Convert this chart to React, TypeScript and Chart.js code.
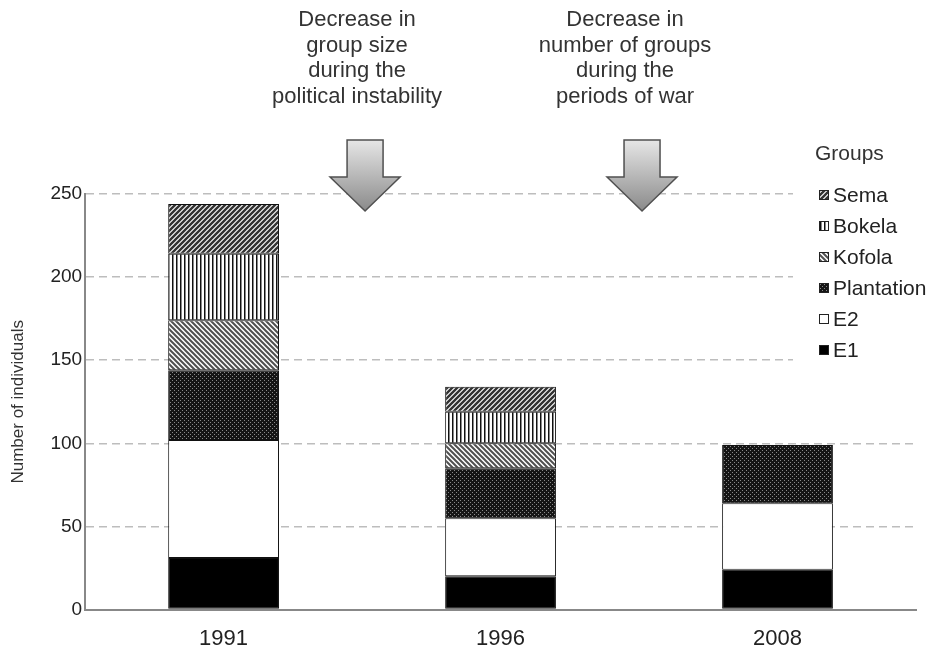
import React, { useEffect, useRef } from "react";
import { Chart, registerables } from "chart.js";

Chart.register(...registerables);

// ---- data ----
const years = ["1991", "1996", "2008"];
const groupNames = ["E1", "E2", "Plantation", "Kofola", "Bokela", "Sema"];
const e1Values = [31, 20, 24];
const e2Values = [71, 35, 40];
const plantationValues = [42, 30, 35];
const kofolaValues = [30, 15, null];
const bokelaValues = [40, 19, null];
const semaValues = [30, 15, null];
const yMax = 250;
const yStep = 50;
const yTitle = "Number of individuals";
const legendTitle = "Groups";
const note1 = ["Decrease in", "group size", "during the", "political instability"];
const note2 = ["Decrease in", "number of groups", "during the", "periods of war"];

const FONT = "'Liberation Sans', Arial, Helvetica, sans-serif";

function makePattern(size: number, draw: (g: CanvasRenderingContext2D, s: number) => void) {
  const c = document.createElement("canvas");
  c.width = size;
  c.height = size;
  const g = c.getContext("2d") as CanvasRenderingContext2D;
  draw(g, size);
  return g.createPattern(c, "repeat") as CanvasPattern;
}

function diag(g: CanvasRenderingContext2D, s: number, up: boolean, color: string, w: number) {
  g.fillStyle = "#fff";
  g.fillRect(0, 0, s, s);
  g.strokeStyle = color;
  g.lineWidth = w;
  g.beginPath();
  if (up) {
    g.moveTo(-1, s + 1); g.lineTo(s + 1, -1);
    g.moveTo(-1, 1); g.lineTo(1, -1);
    g.moveTo(s - 1, s + 1); g.lineTo(s + 1, s - 1);
  } else {
    g.moveTo(-1, -1); g.lineTo(s + 1, s + 1);
    g.moveTo(s - 1, -1); g.lineTo(s + 1, 1);
    g.moveTo(-1, s - 1); g.lineTo(1, s + 1);
  }
  g.stroke();
}

function buildFills() {
  const e1 = "#000000";
  const e2 = "#ffffff";
  const plantation = makePattern(4, (g) => {
    g.fillStyle = "#151515";
    g.fillRect(0, 0, 4, 4);
    g.fillStyle = "#8a8a8a";
    g.fillRect(0, 0, 1, 1);
    g.fillRect(2, 2, 1, 1);
  });
  const kofola = makePattern(5, (g, s) => diag(g, s, false, "#505050", 2));
  const bokela = makePattern(4, (g) => {
    g.fillStyle = "#fff";
    g.fillRect(0, 0, 4, 4);
    g.fillStyle = "#111";
    g.fillRect(0, 0, 1, 4);
    g.fillStyle = "#888";
    g.fillRect(1, 0, 1, 4);
  });
  const sema = makePattern(5, (g, s) => diag(g, s, true, "#333", 2.4));
  return [e1, e2, plantation, kofola, bokela, sema];
}

function drawArrow(ctx: CanvasRenderingContext2D, cx: number, tipY: number) {
  const shaftHalf = 18;
  const headHalf = 35;
  const headBase = tipY - 34;
  const shaftTop = tipY - 71;
  const grad = ctx.createLinearGradient(0, shaftTop, 0, tipY);
  grad.addColorStop(0, "#e6e6e6");
  grad.addColorStop(1, "#8a8a8a");
  ctx.save();
  ctx.beginPath();
  ctx.moveTo(cx - shaftHalf, shaftTop);
  ctx.lineTo(cx + shaftHalf, shaftTop);
  ctx.lineTo(cx + shaftHalf, headBase);
  ctx.lineTo(cx + headHalf, headBase);
  ctx.lineTo(cx, tipY);
  ctx.lineTo(cx - headHalf, headBase);
  ctx.lineTo(cx - shaftHalf, headBase);
  ctx.closePath();
  ctx.fillStyle = grad;
  ctx.fill();
  ctx.strokeStyle = "#505050";
  ctx.lineWidth = 1.5;
  ctx.lineJoin = "miter";
  ctx.stroke();
  ctx.restore();
}

const overlayPlugin = {
  id: "overlay",
  afterDraw(chart: any) {
    const ctx: CanvasRenderingContext2D = chart.ctx;
    const area = chart.chartArea;
    const xs = chart.scales.x;
    const fills = chart.data.datasets.map((d: any) => d.backgroundColor);

    // annotations
    const notes = [note1, note2];
    const textShift = [-5, -14];
    notes.forEach((lines, i) => {
      const mid = (xs.getPixelForValue(i) + xs.getPixelForValue(i + 1)) / 2;
      ctx.save();
      ctx.fillStyle = "#333";
      ctx.font = `22px ${FONT}`;
      ctx.textAlign = "center";
      ctx.textBaseline = "alphabetic";
      lines.forEach((t, j) => ctx.fillText(t, mid + textShift[i], 26 + j * 25.5));
      ctx.restore();
      drawArrow(ctx, mid + 3, area.top + 17);
    });

    // legend
    const lx = area.right - 123;
    ctx.save();
    ctx.fillStyle = "#fff";
    ctx.fillRect(lx, area.top - 60, chart.width - lx, 236);
    ctx.fillStyle = "#333";
    ctx.font = `21px ${FONT}`;
    ctx.textAlign = "left";
    ctx.textBaseline = "middle";
    ctx.fillText(legendTitle, lx + 22, area.top - 40);
    const ds = chart.data.datasets;
    for (let k = ds.length - 1, row = 0; k >= 0; k--, row++) {
      const cy = area.top + 1 + row * 31;
      ctx.fillStyle = fills[k];
      ctx.fillRect(lx + 26, cy - 5, 10, 10);
      ctx.strokeStyle = "#222";
      ctx.lineWidth = 1;
      ctx.strokeRect(lx + 26.5, cy - 4.5, 9, 9);
      ctx.fillStyle = "#222";
      ctx.fillText(ds[k].label, lx + 40, cy + 1);
    }
    ctx.restore();
  },
};

export default function App() {
  const ref = useRef<HTMLCanvasElement | null>(null);
  useEffect(() => {
    document.body.style.margin = "0";
    const fills = buildFills();
    const series = [e1Values, e2Values, plantationValues, kofolaValues, bokelaValues, semaValues];
    const chart = new Chart(ref.current as HTMLCanvasElement, {
      type: "bar",
      data: {
        labels: years,
        datasets: series.map((vals, i) => ({
          label: groupNames[i],
          data: vals,
          backgroundColor: fills[i],
          borderColor: "#111",
          borderWidth: 1,
          borderSkipped: false,
          categoryPercentage: 0.8,
          barPercentage: 0.5,
        })),
      },
      options: {
        responsive: false,
        animation: false,
        layout: { padding: { top: 194, left: 0, right: 13, bottom: -17 } },
        plugins: { legend: { display: false }, tooltip: { enabled: false } },
        scales: {
          x: {
            stacked: true,
            grid: { display: false, drawTicks: false },
            border: { display: true, color: "#888", width: 2 },
            ticks: { color: "#222", padding: 16, font: { family: FONT, size: 22 } },
          },
          y: {
            stacked: true,
            min: 0,
            max: yMax,
            ticks: { stepSize: yStep, color: "#222", padding: 3, font: { family: FONT, size: 19 } },
            grid: {
              drawTicks: false,
              color: (c: any) => (c.tick && c.tick.value === 0 ? "rgba(0,0,0,0)" : "#bdbdbd"),
              lineWidth: 1.5,
            },
            border: { display: true, color: "#888", width: 2, dash: [8, 5] },
            title: {
              display: true,
              text: yTitle,
              color: "#333",
              font: { family: FONT, size: 17 },
              padding: { top: 8, bottom: 19 },
            },
          },
        },
      },
      plugins: [overlayPlugin],
    });
    return () => chart.destroy();
  }, []);
  return (
    <div style={{ width: 929, height: 651 }}>
      <canvas ref={ref} width={929} height={651} style={{ display: "block" }} />
    </div>
  );
}
